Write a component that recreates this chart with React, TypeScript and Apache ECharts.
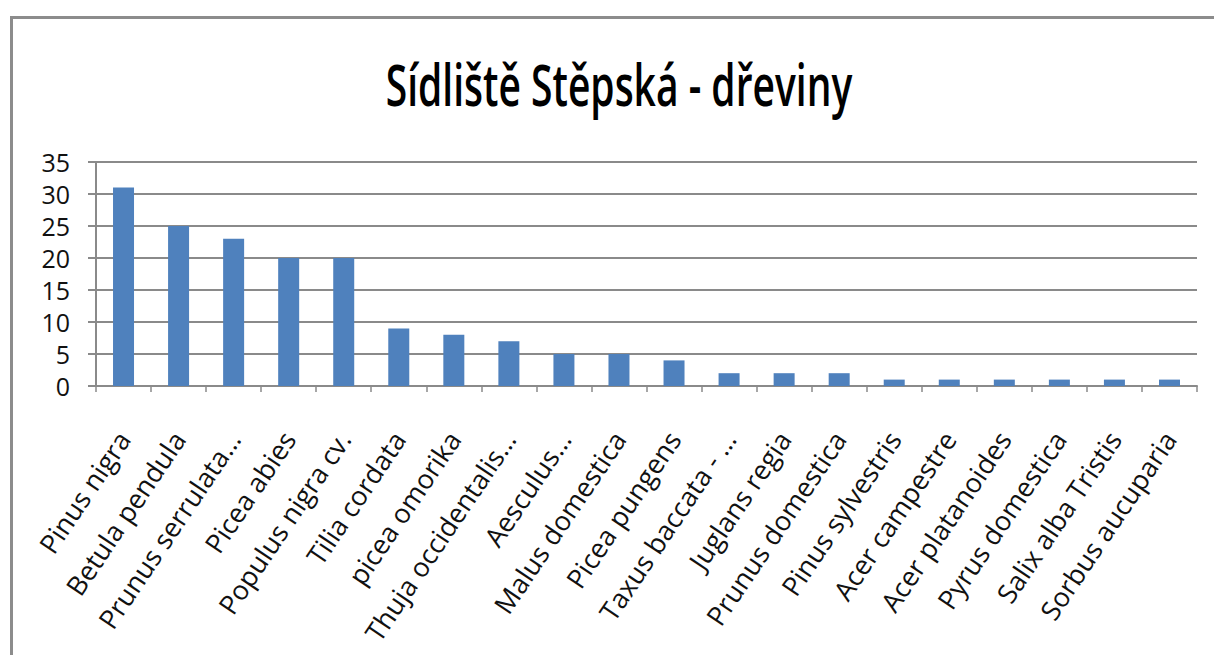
import React, { useEffect, useRef } from "react";
import * as echarts from "echarts";

const titleText = "Sídliště Stěpská - dřeviny";
const categories = [
  "Pinus nigra",
  "Betula pendula",
  "Prunus serrulata…",
  "Picea abies",
  "Populus nigra cv.",
  "Tilia cordata",
  "picea omorika",
  "Thuja occidentalis…",
  "Aesculus…",
  "Malus domestica",
  "Picea pungens",
  "Taxus baccata - …",
  "Juglans regia",
  "Prunus domestica",
  "Pinus sylvestris",
  "Acer campestre",
  "Acer platanoides",
  "Pyrus domestica",
  "Salix alba Tristis",
  "Sorbus aucuparia",
];
const counts = [31, 25, 23, 20, 20, 9, 8, 7, 5, 5, 4, 2, 2, 2, 1, 1, 1, 1, 1, 1];
const yMin = 0;
const yMax = 35;
const yStep = 5;

export default function App() {
  const ref = useRef<HTMLDivElement>(null);
  useEffect(() => {
    if (!ref.current) return;
    const chart = echarts.init(ref.current, null, { renderer: "svg" });
    const gray = "#8a8a8a";
    chart.setOption({
      animation: false,
      backgroundColor: "#ffffff",
      grid: { left: 96, right: 17, top: 162, bottom: 269, containLabel: false },
      graphic: [
        {
          type: "polyline",
          shape: { points: [[11.5, 700], [11.5, 17.5], [1300, 17.5]] },
          style: { stroke: "#8c8c8c", lineWidth: 3, fill: "none" },
          silent: true,
        },
        {
          type: "text",
          x: 619,
          y: 84,
          scaleY: 1.5,
          style: {
            text: titleText,
            font: "600 39px 'Open Sans'",
            fill: "#000000",
            align: "center",
            verticalAlign: "middle",
          },
          silent: true,
        },
      ],
      xAxis: {
        type: "category",
        data: categories,
        axisLine: { show: true, lineStyle: { color: gray, width: 2 } },
        axisTick: { show: true, length: 6, lineStyle: { color: gray, width: 1.5 } },
        axisLabel: {
          interval: 0,
          rotate: 56,
          margin: 48,
          fontFamily: "Open Sans",
          fontSize: 27,
          lineHeight: 30,
          color: "#111111",
        },
        splitLine: { show: false },
      },
      yAxis: {
        type: "value",
        min: yMin,
        max: yMax,
        interval: yStep,
        axisLine: { show: true, lineStyle: { color: gray, width: 2 } },
        axisTick: { show: true, length: 8, lineStyle: { color: gray, width: 2 } },
        axisLabel: {
          margin: 26,
          fontFamily: "Open Sans",
          fontSize: 25,
          lineHeight: 28,
          color: "#111111",
        },
        splitLine: { show: true, lineStyle: { color: gray, width: 2 } },
      },
      series: [
        {
          type: "bar",
          data: counts,
          barWidth: 21,
          itemStyle: { color: "#4f81bd" },
        },
      ],
    });
    return () => chart.dispose();
  }, []);
  return (
    <div
      ref={ref}
      style={{ position: "absolute", left: 0, top: 0, width: 1214, height: 655, background: "#fff" }}
    />
  );
}
